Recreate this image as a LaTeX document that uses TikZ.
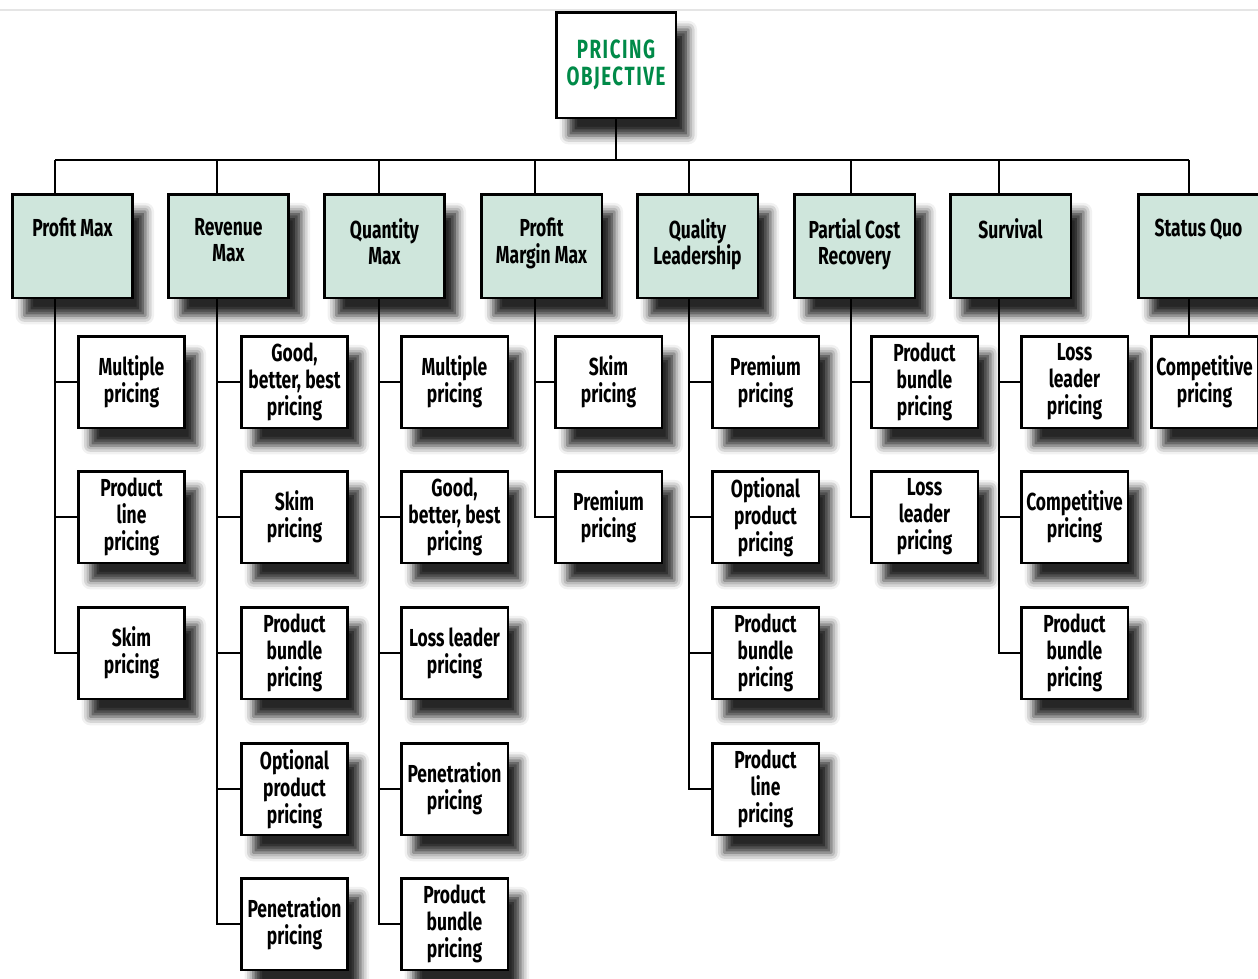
\documentclass[tikz,border=0pt]{standalone}
\usepackage{fontspec}
\setmainfont{Fira Sans}[FakeStretch=0.71]
\usetikzlibrary{shadows.blur}

\definecolor{catfill}{RGB}{207,230,220}
\definecolor{objgreen}{RGB}{0,138,72}

\tikzset{
    box/.style={
        draw=black,
        line width=1.7pt,
        fill=white,
        align=center,
        inner sep=2pt,
        blur shadow={shadow xshift=7pt, shadow yshift=-10pt, shadow blur radius=5pt, shadow opacity=85}
    },
    rootbox/.style={box, text=objgreen, minimum width=2.4cm, minimum height=2.12cm,
        font=\bfseries\fontsize{15}{15.5}\selectfont\addfontfeatures{LetterSpace=6}},
    catbox/.style={box, fill=catfill, minimum width=2.42cm, minimum height=2.08cm},
    cattext/.style={anchor=north, yshift=-11pt, align=center, execute at begin node={\vphantom{fl}}},
    pricebox/.style={box, minimum width=2.14cm, minimum height=1.84cm},
    link/.style={line width=1.4pt}
}

\begin{document}
\begin{tikzpicture}[x=0.02cm, y=-0.02cm, font=\bfseries\fontsize{14}{15.3}\selectfont]

\useasboundingbox (0,0) rectangle (1258,978);
\draw[black!10, line width=1pt] (0,10) -- (1258,10);

\node[rootbox] (root) at (616,65) {PRICING\\OBJECTIVE};

% objectives
\node[catbox, label={[cattext]north:Profit Max}] (pmax) at (72.5,246) {};
\node[catbox, label={[cattext]north:Revenue\\Max}] (rmax) at (228.5,246) {};
\node[catbox, label={[cattext]north:Quantity\\Max}] (qmax) at (384.5,246) {};
\node[catbox, label={[cattext]north:Profit\\Margin Max}] (mmax) at (541.5,246) {};
\node[catbox, label={[cattext]north:Quality\\Leadership}] (qlead) at (697.5,246) {};
\node[catbox, label={[cattext]north:Partial Cost\\Recovery}] (pcr) at (854.5,246) {};
\node[catbox, label={[cattext]north:Survival}] (surv) at (1010.5,246) {};
\node[catbox, label={[cattext]north:Status Quo}] (squo) at (1198.5,246) {};

% pricing strategies
\node[pricebox] (pmax1) at (131.5,382) {Multiple\\pricing};
\node[pricebox] (pmax2) at (131.5,517) {Product\\line\\pricing};
\node[pricebox] (pmax3) at (131.5,653) {Skim\\pricing};

\node[pricebox] (rmax1) at (294.5,382) {Good,\\better, best\\pricing};
\node[pricebox] (rmax2) at (294.5,517) {Skim\\pricing};
\node[pricebox] (rmax3) at (294.5,653) {Product\\bundle\\pricing};
\node[pricebox] (rmax4) at (294.5,789) {Optional\\product\\pricing};
\node[pricebox] (rmax5) at (294.5,924) {Penetration\\pricing};

\node[pricebox] (qmax1) at (454.5,382) {Multiple\\pricing};
\node[pricebox] (qmax2) at (454.5,517) {Good,\\better, best\\pricing};
\node[pricebox] (qmax3) at (454.5,653) {Loss leader\\pricing};
\node[pricebox] (qmax4) at (454.5,789) {Penetration\\pricing};
\node[pricebox] (qmax5) at (454.5,924) {Product\\bundle\\pricing};

\node[pricebox] (mmax1) at (608.5,382) {Skim\\pricing};
\node[pricebox] (mmax2) at (608.5,517) {Premium\\pricing};

\node[pricebox] (qlead1) at (765.5,382) {Premium\\pricing};
\node[pricebox] (qlead2) at (765.5,517) {Optional\\product\\pricing};
\node[pricebox] (qlead3) at (765.5,653) {Product\\bundle\\pricing};
\node[pricebox] (qlead4) at (765.5,789) {Product\\line\\pricing};

\node[pricebox] (pcr1) at (924.5,382) {Product\\bundle\\pricing};
\node[pricebox] (pcr2) at (924.5,517) {Loss\\leader\\pricing};

\node[pricebox] (surv1) at (1074.5,382) {Loss\\leader\\pricing};
\node[pricebox] (surv2) at (1074.5,517) {Competitive\\pricing};
\node[pricebox] (surv3) at (1074.5,653) {Product\\bundle\\pricing};

\node[pricebox] (squo1) at (1204.5,382) {Competitive\\pricing};

% tree lines
\foreach\x[count=\xi] in {55, 217, 379, 535, 689, 851, 999, 1189}
    \coordinate (d\xi) at (\x,160);
\draw[link] (root.south) -- (root.south |- d1);
\draw[link] (d1) -- (d8);
\foreach\c/\d/\n in {pmax/d1/3, rmax/d2/5, qmax/d3/5, mmax/d4/2, qlead/d5/4, pcr/d6/2, surv/d7/3}{
    \draw[link] (\d) -- (\c.north -| \d);
    \foreach\i in {1,...,\n}
        \draw[link] (\c.south -| \d) |- (\c\i.west);
}
\draw[link] (d8) -- (squo.north -| d8);
\draw[link] (squo.south -| d8) -- (squo1.north -| d8);

\end{tikzpicture}
\end{document}
